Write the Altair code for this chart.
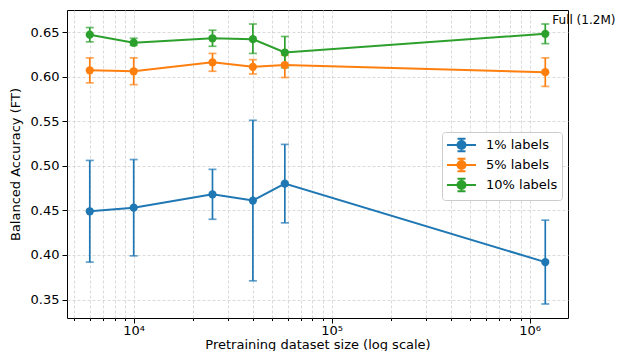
import altair as alt
import pandas as pd

sizes = [6000, 10000, 25000, 40000, 58000, 1200000]
series = ["1% labels", "5% labels", "10% labels"]
colors = ["#1f77b4", "#ff7f0e", "#2ca02c"]

mean_1 = [0.449, 0.453, 0.468, 0.461, 0.480, 0.392]
lo_1 = [0.392, 0.399, 0.440, 0.371, 0.436, 0.345]
hi_1 = [0.506, 0.507, 0.496, 0.551, 0.524, 0.439]

mean_5 = [0.607, 0.606, 0.616, 0.611, 0.613, 0.605]
lo_5 = [0.593, 0.591, 0.606, 0.603, 0.599, 0.589]
hi_5 = [0.621, 0.621, 0.626, 0.619, 0.624, 0.621]

mean_10 = [0.647, 0.638, 0.643, 0.642, 0.627, 0.648]
lo_10 = [0.639, 0.635, 0.634, 0.626, 0.610, 0.637]
hi_10 = [0.655, 0.643, 0.652, 0.659, 0.645, 0.659]

y_ticks = [0.35, 0.40, 0.45, 0.50, 0.55, 0.60, 0.65]
x_major = [10000, 100000, 1000000]
x_major_labels = ["10\u2074", "10\u2075", "10\u2076"]
x_minor = [5000, 6000, 7000, 8000, 9000,
           20000, 30000, 40000, 50000, 60000, 70000, 80000, 90000,
           200000, 300000, 400000, 500000, 600000, 700000, 800000, 900000]

annot_text = "Full (1.2M)"
annot_x = 1200000
annot_y = 0.663

rows = []
for name, m, lo, hi in zip(series, [mean_1, mean_5, mean_10], [lo_1, lo_5, lo_10], [hi_1, hi_5, hi_10]):
    for s, a, b, c in zip(sizes, m, lo, hi):
        rows.append({"size": s, "series": name, "mean": a, "lo": b, "hi": c})
df = pd.DataFrame(rows)

font = "DejaVu Sans"
xdom = [4603, 1563000]
ydom = [0.3293, 0.6747]

all_x = sorted(x_major + x_minor)
label_expr = " : ".join(
    [f"datum.value == {v} ? '{l}'" for v, l in zip(x_major, x_major_labels)]
) + " : ''"
major_test = " || ".join([f"datum.value == {v}" for v in x_major])

x_scale = alt.Scale(type="log", domain=xdom, nice=False)
y_scale = alt.Scale(domain=ydom, nice=False, zero=False)
color_scale = alt.Scale(domain=series, range=colors)

x_axis = alt.Axis(
    title="Pretraining dataset size (log scale)",
    values=all_x,
    labelExpr=label_expr,
    grid=True,
    gridDash=[3, 2],
    gridColor="#d0d0d0",
    gridWidth=0.8,
    tickSize={"condition": {"test": major_test, "value": 5}, "value": 2.5},
    tickColor="black",
    domain=False,
    labelFont=font,
    labelFontSize=13,
    labelColor="black",
    labelPadding=1,
    titleFont=font,
    titleFontSize=13,
    titleFontWeight="normal",
    titleColor="black",
    titleBaseline="alphabetic",
    titleY=30,
    labelFlush=False,
    labelOverlap=False,
)
y_axis = alt.Axis(
    title="Balanced Accuracy (FT)",
    values=y_ticks,
    format=".2f",
    grid=True,
    gridDash=[3, 2],
    gridColor="#d0d0d0",
    gridWidth=0.8,
    tickSize=5,
    tickColor="black",
    domain=False,
    labelFont=font,
    labelFontSize=13,
    labelColor="black",
    labelPadding=3,
    titleFont=font,
    titleFontSize=13,
    titleFontWeight="normal",
    titleColor="black",
    titlePadding=8,
)

# legend glyph: line with errorbar and marker (unit = 8px)
legend_symbol = (
    "M-1,0H2.625"
    "M0.8125,-0.78V0.78"
    "M0.3125,-0.78H1.3125M0.3125,0.78H1.3125"
    "M0.3125,0A0.5,0.5 0 1,1 1.3125,0A0.5,0.5 0 1,1 0.3125,0Z"
)

legend = alt.Legend(
    title=None,
    orient="none",
    legendX=375,
    legendY=122,
    fillColor="white",
    strokeColor="#cccccc",
    cornerRadius=3,
    padding=4,
    labelFont=font,
    labelFontSize=13,
    labelColor="black",
    labelOffset=22,
    rowPadding=-2.4,
    symbolType=legend_symbol,
    symbolSize=256,
    symbolStrokeWidth=2,
    symbolOpacity=1,
)

base = alt.Chart(df)

lines = base.mark_line(strokeWidth=2, clip=True).encode(
    x=alt.X("size:Q", scale=x_scale, axis=x_axis),
    y=alt.Y("mean:Q", scale=y_scale, axis=y_axis),
    color=alt.Color("series:N", scale=color_scale, legend=legend),
    detail="series:N",
)

bars = base.mark_errorbar(ticks={"size": 8, "thickness": 1.7}, thickness=1.7).encode(
    x=alt.X("size:Q", scale=x_scale),
    y=alt.Y("lo:Q", scale=y_scale, title="Balanced Accuracy (FT)"),
    y2="hi:Q",
    color=alt.Color("series:N", scale=color_scale, legend=legend),
)

pts = base.mark_point(filled=True, size=68, opacity=1, strokeWidth=0.01).encode(
    x=alt.X("size:Q", scale=x_scale),
    y=alt.Y("mean:Q", scale=y_scale),
    fill=alt.Fill("series:N", scale=color_scale, legend=legend),
)

annot_df = pd.DataFrame({"x": [annot_x], "y": [annot_y], "t": [annot_text]})
annot = alt.Chart(annot_df).mark_text(
    align="left", baseline="middle", dx=7, font=font, fontSize=12, color="black"
).encode(
    x=alt.X("x:Q", scale=x_scale),
    y=alt.Y("y:Q", scale=y_scale),
    text="t:N",
)

chart = alt.layer(lines, bars, pts, annot).properties(
    width=501,
    height=308,
    autosize=alt.AutoSizeParams(type="none"),
    padding={"left": 59, "top": 2, "right": 49, "bottom": 33},
).configure_view(
    stroke="black", strokeWidth=1
)

chart.save("out.html", embed_options={"renderer": "svg", "actions": False})
